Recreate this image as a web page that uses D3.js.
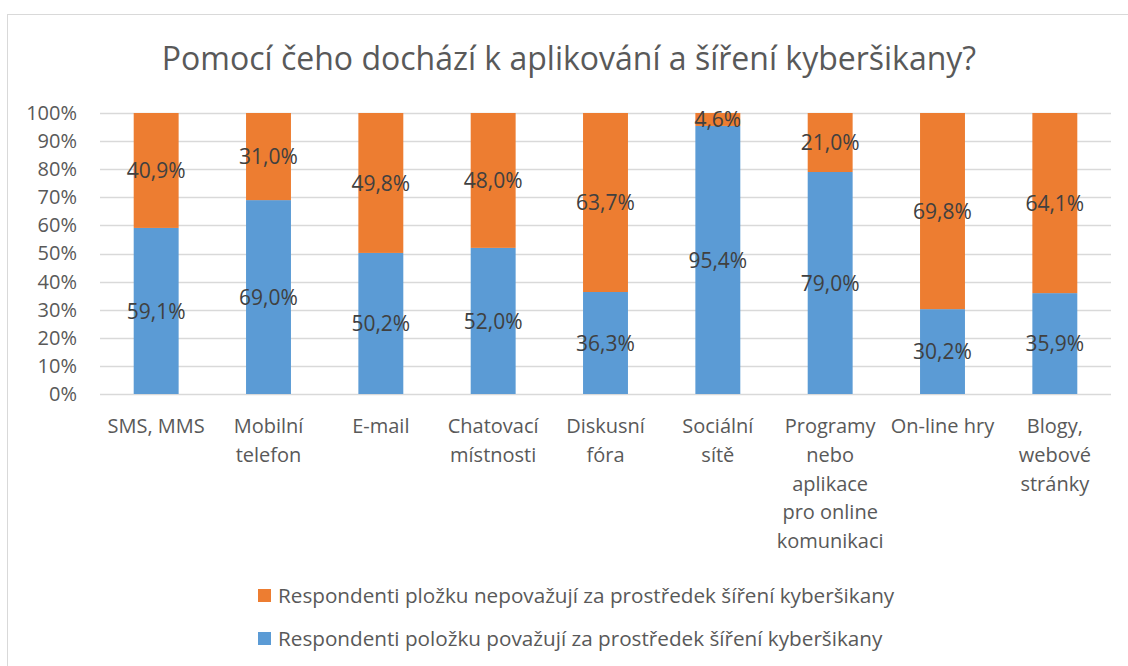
<!DOCTYPE html>
<html>
<head>
<meta charset="utf-8">
<script src="https://cdn.jsdelivr.net/npm/d3@7"></script>
<style>
  body { margin: 0; background: #fff; }
  svg { font-family: "Open Sans", sans-serif; }
</style>
</head>
<body>
<div id="chart"></div>
<script>
// categories and the two stacked series (percent)
const categories = [
  ["SMS, MMS"],
  ["Mobilní", "telefon"],
  ["E-mail"],
  ["Chatovací", "místnosti"],
  ["Diskusní", "fóra"],
  ["Sociální", "sítě"],
  ["Programy", "nebo", "aplikace", "pro online", "komunikaci"],
  ["On-line hry"],
  ["Blogy,", "webové", "stránky"]
];
const yesValues = [59.1, 69.0, 50.2, 52.0, 36.3, 95.4, 79.0, 30.2, 35.9];
const noValues = [40.9, 31.0, 49.8, 48.0, 63.7, 4.6, 21.0, 69.8, 64.1];
const yTicks = [0, 10, 20, 30, 40, 50, 60, 70, 80, 90, 100];
const seriesNames = [
  "Respondenti pložku nepovažují za prostředek šíření kyberšikany",
  "Respondenti položku považují za prostředek šíření kyberšikany"
];
const colors = { yes: "#5B9BD5", no: "#ED7D31" };

const W = 1128, H = 666;
const margin = { top: 113, right: 17, bottom: 272, left: 100 };
const width = W - margin.left - margin.right,
    height = H - margin.top - margin.bottom;

let svg = d3.select("#chart").append("svg")
    .attr("width", W)
    .attr("height", H);

// chart border
svg.append("rect")
    .attr("x", 7.5).attr("y", 14.5)
    .attr("width", W).attr("height", H)
    .attr("fill", "none")
    .attr("stroke", "#D9D9D9");

svg.append("text")
    .attr("x", 569)
    .attr("y", 70)
    .attr("text-anchor", "middle")
    .attr("font-size", 32)
    .attr("fill", "#595959")
    .text("Pomocí čeho dochází k aplikování a šíření kyberšikany?");

let g = svg.append("g")
    .attr("transform", "translate(" + margin.left + "," + margin.top + ")");

let x = d3.scaleBand()
    .domain(d3.range(categories.length))
    .range([0, width])
    .paddingInner(0.6)
    .paddingOuter(0.3);

let y = d3.scaleLinear()
    .domain([0, 100])
    .range([height, 0]);

// gridlines
g.append("g")
    .selectAll("line")
    .data(yTicks)
    .enter()
    .append("line")
    .attr("x1", 0).attr("x2", width)
    .attr("y1", d => Math.round(y(d)) + 0.5)
    .attr("y2", d => Math.round(y(d)) + 0.5)
    .attr("stroke", "#D9D9D9")
    .attr("stroke-width", 1.3);

// y axis labels
let yAxis = g.append("g")
    .call(d3.axisLeft(y).tickValues(yTicks).tickFormat(d => d + "%").tickSize(0).tickPadding(23));
yAxis.select(".domain").remove();
yAxis.selectAll("text")
    .attr("font-size", 20)
    .attr("font-family", "'Open Sans', sans-serif")
    .attr("fill", "#595959");

// stacked bars
let bars = g.selectAll(".cat")
    .data(categories.map((c, i) => ({ i: i, yes: yesValues[i], no: noValues[i] })))
    .enter()
    .append("g");

bars.append("rect")
    .attr("x", d => x(d.i))
    .attr("width", x.bandwidth())
    .attr("y", d => y(d.yes))
    .attr("height", d => height - y(d.yes))
    .attr("fill", colors.yes);

bars.append("rect")
    .attr("x", d => x(d.i))
    .attr("width", x.bandwidth())
    .attr("y", d => y(d.yes + d.no))
    .attr("height", d => y(d.yes) - y(d.yes + d.no))
    .attr("fill", colors.no);

const fmt = v => v.toFixed(1).replace(".", ",") + "%";

bars.append("text")
    .attr("x", d => x(d.i) + x.bandwidth() / 2)
    .attr("y", d => y(d.yes / 2))
    .attr("dy", "0.36em")
    .attr("text-anchor", "middle")
    .attr("font-size", 21)
    .attr("fill", "#404040")
    .text(d => fmt(d.yes));

bars.append("text")
    .attr("x", d => x(d.i) + x.bandwidth() / 2)
    .attr("y", d => y(d.yes + d.no / 2))
    .attr("dy", "0.36em")
    .attr("text-anchor", "middle")
    .attr("font-size", 21)
    .attr("fill", "#404040")
    .text(d => fmt(d.no));

// category labels
let xl = g.append("g")
    .selectAll("text")
    .data(categories)
    .enter()
    .append("text")
    .attr("x", (d, i) => x(i) + x.bandwidth() / 2)
    .attr("y", height + 39)
    .attr("text-anchor", "middle")
    .attr("font-size", 20)
    .attr("fill", "#595959");
xl.selectAll("tspan")
    .data(d => d)
    .enter()
    .append("tspan")
    .attr("x", function () { return this.parentNode.getAttribute("x"); })
    .attr("dy", (d, j) => j === 0 ? 0 : 28.8)
    .text(d => d);

// legend
const legend = [
  { name: seriesNames[0], color: colors.no, y: 596 },
  { name: seriesNames[1], color: colors.yes, y: 639 }
];
let lg = svg.append("g").selectAll("g")
    .data(legend)
    .enter()
    .append("g");
lg.append("rect")
    .attr("x", 258).attr("y", d => d.y - 7)
    .attr("width", 13).attr("height", 13)
    .attr("fill", d => d.color);
lg.append("text")
    .attr("x", 278).attr("y", d => d.y)
    .attr("dy", "0.36em")
    .attr("font-size", 20.7)
    .attr("fill", "#595959")
    .text(d => d.name);
</script>
</body>
</html>
